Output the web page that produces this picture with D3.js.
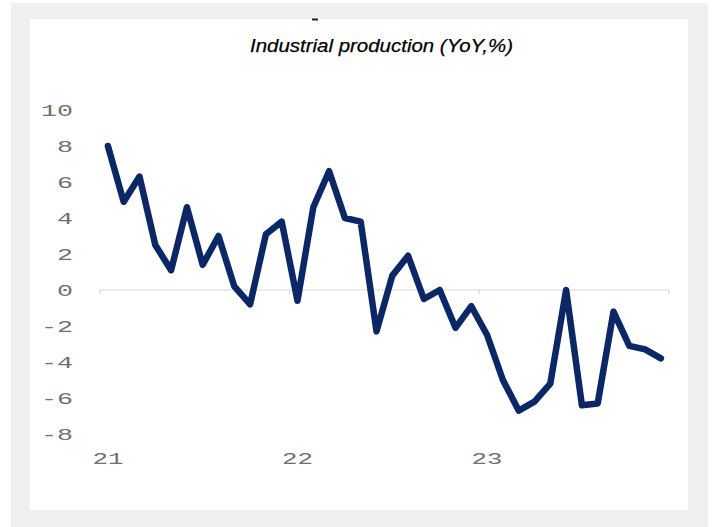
<!DOCTYPE html>
<html>
<head>
<meta charset="utf-8">
<script src="https://cdn.jsdelivr.net/npm/d3@7"></script>
<style>
  html, body { margin: 0; padding: 0; background: #ffffff; }
  svg { display: block; }
</style>
</head>
<body>
<svg id="chart" width="713" height="527"></svg>
<script>
// Monthly categories, Jan 2021 .. Dec 2023
const months = [
  "2021-01","2021-02","2021-03","2021-04","2021-05","2021-06","2021-07","2021-08","2021-09","2021-10","2021-11","2021-12",
  "2022-01","2022-02","2022-03","2022-04","2022-05","2022-06","2022-07","2022-08","2022-09","2022-10","2022-11","2022-12",
  "2023-01","2023-02","2023-03","2023-04","2023-05","2023-06","2023-07","2023-08","2023-09","2023-10","2023-11","2023-12"
];
// Industrial production, year-on-year change (%)
const ipYoY = [
  8.0, 4.9, 6.3, 2.5, 1.1, 4.6, 1.4, 3.0, 0.2, -0.8, 3.1, 3.8,
  -0.6, 4.6, 6.6, 4.0, 3.8, -2.3, 0.8, 1.9, -0.5, 0.0, -2.1, -0.9,
  -2.5, -5.0, -6.7, -6.2, -5.2, 0.0, -6.4, -6.3, -1.2, -3.1, -3.3, -3.8
];
const yTicks = [10, 8, 6, 4, 2, 0, -2, -4, -6, -8];
const yearLabels = ["21", "22", "23"];
const yearStarts = ["2021-01", "2022-01", "2023-01"];
const title = "Industrial production (YoY,%)";

const svg = d3.select("#chart");

// Frame and panel
svg.append("rect").attr("x", 11).attr("y", 3).attr("width", 697).attr("height", 524).attr("fill", "#eff1f1");
svg.append("rect").attr("x", 30).attr("y", 19).attr("width", 658).attr("height", 491).attr("fill", "#ffffff");
svg.append("rect").attr("x", 312).attr("y", 18.5).attr("width", 6).attr("height", 2).attr("fill", "#222");

const x = d3.scaleBand().domain(months).range([100, 668.8]).paddingInner(0).paddingOuter(0);
const y = d3.scaleLinear().domain([-8, 10]).range([434, 110]);

// Title
svg.append("text")
  .attr("x", 250).attr("y", 52)
  .attr("textLength", 263).attr("lengthAdjust", "spacingAndGlyphs")
  .attr("font-family", "Liberation Sans, Arial, sans-serif")
  .attr("font-style", "italic")
  .attr("font-size", 19)
  .attr("fill", "#000")
  .attr("stroke", "#000").attr("stroke-width", 0.25)
  .text(title);

const labelFont = "Liberation Mono, DejaVu Sans Mono, monospace";

// Y axis labels (no axis line)
const yAxis = d3.axisLeft(y).tickValues(yTicks).tickFormat(d => String(d)).tickSize(0).tickPadding(0);
const gy = svg.append("g").attr("transform", "translate(73,0)").call(yAxis);
gy.select(".domain").remove();
gy.selectAll("text")
  .attr("font-family", labelFont)
  .attr("font-size", 17)
  .attr("fill", "#707070")
  .attr("dy", "0.35em")
  .attr("textLength", d => String(d).length * 16)
  .attr("lengthAdjust", "spacingAndGlyphs");

// Zero line with year-boundary ticks
const y0 = y(0);
svg.append("line")
  .attr("x1", x.range()[0]).attr("x2", x.range()[1])
  .attr("y1", y0).attr("y2", y0)
  .attr("stroke", "#d8d8d8").attr("stroke-width", 1);
const boundaries = yearStarts.map(m => x(m)).concat([x.range()[1]]);
svg.selectAll(".ytick")
  .data(boundaries)
  .join("line")
  .attr("x1", d => d).attr("x2", d => d)
  .attr("y1", y0).attr("y2", y0 + 4)
  .attr("stroke", "#d0d0d0").attr("stroke-width", 1);

// Year labels on the January categories
svg.selectAll(".yearLabel")
  .data(yearStarts)
  .join("text")
  .attr("x", (d, i) => x(d) + x.bandwidth() / 2)
  .attr("y", 458)
  .attr("dy", "0.35em")
  .attr("text-anchor", "middle")
  .attr("font-family", labelFont)
  .attr("font-size", 17)
  .attr("fill", "#707070")
  .attr("textLength", 31)
  .attr("lengthAdjust", "spacingAndGlyphs")
  .text((d, i) => yearLabels[i]);

// Series line
const line = d3.line()
  .x((d, i) => x(months[i]) + x.bandwidth() / 2)
  .y(d => y(d));
svg.append("path")
  .datum(ipYoY)
  .attr("d", line)
  .attr("fill", "none")
  .attr("stroke", "#0c2766")
  .attr("stroke-width", 6.5)
  .attr("stroke-linejoin", "round")
  .attr("stroke-linecap", "round");
</script>
</body>
</html>
